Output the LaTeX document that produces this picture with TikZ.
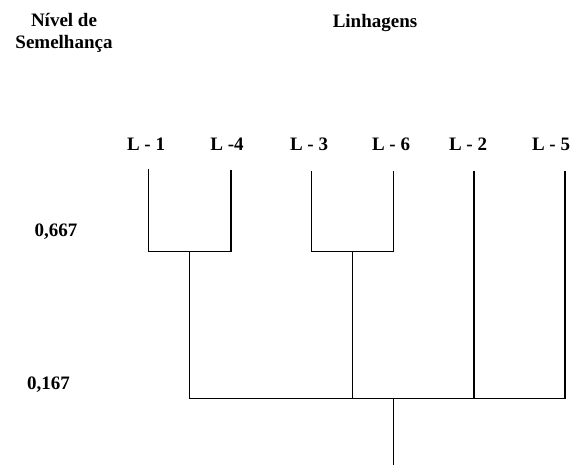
\documentclass[tikz,border=0pt]{standalone}
\usepackage{fontspec}
\setmainfont{Liberation Serif}
\begin{document}
\begin{tikzpicture}[x=1pt,y=-1pt,
  lbl/.style={font=\fontsize{19}{22}\selectfont\bfseries, inner sep=0pt},
  ln/.style={line width=1.3pt, black}]
\useasboundingbox (0,0) rectangle (573,468);
\node[lbl, align=center] (nivel) at (64,33) {Nível de\\Semelhança};
\node[lbl] (linh) at (375,23) {Linhagens};
\node[lbl] (l1) at (146,144) {L - 1};
\node[lbl] (l4) at (227,144) {L -4};
\node[lbl] (l3) at (309,144) {L - 3};
\node[lbl] (l6) at (391,144) {L - 6};
\node[lbl] (l2) at (468,144) {L - 2};
\node[lbl] (l5) at (551,144) {L - 5};
\node[lbl] (v1) at (56,232) {0,667};
\node[lbl] (v2) at (48.5,385) {0,167};
% coordinates
\coordinate (a1) at (148.7,169);
\coordinate (a4) at (231,170);
\coordinate (a3) at (311.7,171);
\coordinate (a6) at (393.7,171);
\coordinate (a2) at (474,171);
\coordinate (a5) at (565,171);
\coordinate (b1) at (148.7,251.7);
\coordinate (b4) at (231,251.7);
\coordinate (b3) at (311.7,251.7);
\coordinate (b6) at (393.7,251.7);
\coordinate (s1) at (189.3,251.7);
\coordinate (s2) at (352.7,251.7);
\coordinate (c1) at (189.3,398.5);
\coordinate (c2) at (352.7,398.5);
\coordinate (c3) at (474,398.5);
\coordinate (c5) at (565,398.5);
\coordinate (r0) at (393.3,398.5);
\coordinate (r1) at (393.3,465);
\draw[ln] (a1) -- (b1) -- (b4) -- (a4);
\draw[ln] (a3) -- (b3) -- (b6) -- (a6);
\draw[ln] (s1) -- (c1);
\draw[ln] (s2) -- (c2);
\draw[ln] (a2) -- (c3);
\draw[ln] (c1) -- (c5) -- (a5);
\draw[ln] (r0) -- (r1);
\end{tikzpicture}
\end{document}
